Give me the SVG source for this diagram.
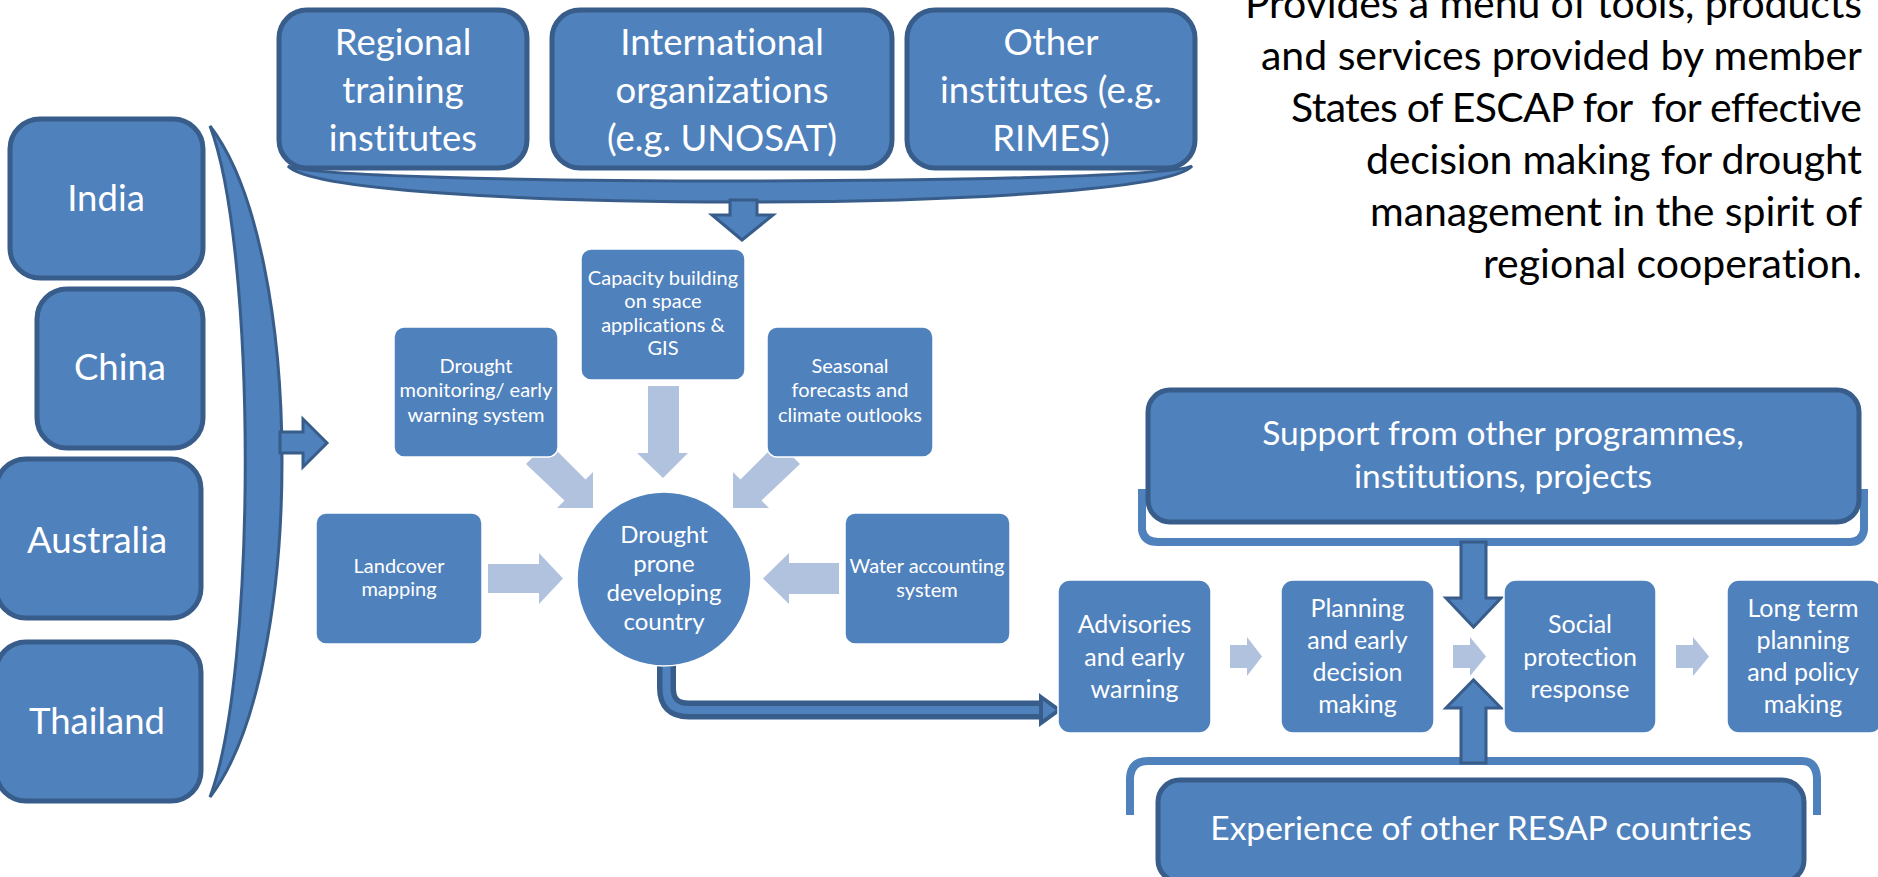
<svg xmlns="http://www.w3.org/2000/svg" width="1878" height="877" viewBox="0 0 1878 877">
  <style>
    text { font-family: Lato, "Open Sans", "Liberation Sans", sans-serif; fill: #FFFFFF; text-anchor: middle; font-variant-ligatures: none; }
    .big { stroke: #385D8A; stroke-width: 5; fill: #4F81BD; }
    .sm { fill: #4F81BD; stroke: #FFFFFF; stroke-width: 1.5; }
    .dk { fill: #4F81BD; stroke: #385D8A; stroke-width: 3; stroke-linejoin: miter; }
    .lt { fill: #B1C2DE; }
    .brk { fill: none; stroke: #4F81BD; stroke-width: 8; stroke-linecap: butt; }
    .t36 { font-size: 36.5px; }
    .t32 { font-size: 33.5px; }
    .t25 { font-size: 25px; }
    .t24 { font-size: 24px; }
    .t18 { font-size: 20px; }
    .note { fill: #000000; text-anchor: end; font-size: 41px; white-space: pre; }
  </style>
  <rect x="0" y="0" width="1878" height="877" fill="#FFFFFF"/>

  <g id="connectors">
    <!-- left crescent brace -->
    <path class="dk" d="M210,126 C306,250 306,672 210,797 C257,672 257,250 210,126 Z"/>
    <!-- arrow from left brace -->
    <polygon class="dk" points="280,432 303,432 303,419 327,443 303,467 303,453 280,453"/>
    <!-- top brace under institutes -->
    <path class="dk" d="M288,166 C330,186 1150,186 1192,166 C1150,214 330,214 288,166 Z"/>
    <!-- down arrow from top brace -->
    <polygon class="dk" points="730,200 757,200 757,215 773,215 742,240 712,215 730,215"/>
    <!-- light arrows into drought prone country -->
    <polygon class="lt" points="648,386 679,386 679,453 688,453 663,478 637,453 648,453"/>
    <polygon class="lt" points="548,442 585.5,479.5 593,472 593,508 557,508 564.5,500.5 526,464"/>
    <polygon class="lt" points="778,442 740.5,479.5 733,472 733,508 769,508 761.5,500.5 800,464"/>
    <polygon class="lt" points="488,564 539,564 539,553 563,578.5 539,604 539,593 488,593"/>
    <polygon class="lt" points="839,563 789,563 789,553 763,578.5 789,604 789,594 839,594"/>
    <!-- elbow connector to advisories -->
    <path d="M666.5,664 V688 Q666.5,710 688.5,710 H1044" fill="none" stroke="#385D8A" stroke-width="19"/>
    <path d="M666.5,667 V688 Q666.5,710 688.5,710 H1046" fill="none" stroke="#4F81BD" stroke-width="8"/>
    <polygon points="1041,697 1059,710 1041,723" fill="#4F81BD" stroke="#385D8A" stroke-width="4" stroke-linejoin="miter"/>
    <!-- light arrows in the flow -->
    <polygon class="lt" points="1230,645 1247,645 1247,637 1262,656.5 1247,676 1247,668 1230,668"/>
    <polygon class="lt" points="1453,645 1470,645 1470,637 1486,656.5 1470,676 1470,668 1453,668"/>
    <polygon class="lt" points="1676,645 1693,645 1693,637 1709,656.5 1693,676 1693,668 1676,668"/>
    <!-- brackets -->
    <path class="brk" d="M1142,489 V530 Q1144,542 1158,542 H1850 Q1862,542 1864,530 V489"/>
    <path class="brk" d="M1130,815 V778 Q1131,761 1148,761 H1802 Q1816,761 1817,778 V815"/>
    <!-- support / experience arrows -->
    <polygon class="dk" points="1461,542 1486,542 1486,598 1501,598 1473.5,627 1446,598 1461,598"/>
    <polygon class="dk" points="1461,763 1486,763 1486,708 1501,708 1473.5,680 1446,708 1461,708"/>
  </g>

  <g id="india"><rect class="big" x="10" y="119" width="193" height="159" rx="30"/><text class="t36" x="106" y="211">India</text></g>
  <g id="china"><rect class="big" x="37" y="289" width="166" height="159" rx="30"/><text class="t36" x="120" y="380">China</text></g>
  <g id="australia"><rect class="big" x="-4" y="459" width="205" height="159" rx="30"/><text class="t36" x="97" y="553">Australia</text></g>
  <g id="thailand"><rect class="big" x="-4" y="642" width="205" height="159" rx="30"/><text class="t36" x="97" y="734">Thailand</text></g>

  <g id="regional"><rect class="big" x="279" y="10" width="248" height="158" rx="28"/>
    <text class="t36" x="403"><tspan x="403" y="55">Regional</tspan><tspan x="403" y="103">training</tspan><tspan x="403" y="151">institutes</tspan></text></g>
  <g id="international"><rect class="big" x="552" y="10" width="340" height="158" rx="28"/>
    <text class="t36" x="722"><tspan x="722" y="55">International</tspan><tspan x="722" y="103">organizations</tspan><tspan x="722" y="151">(e.g. UNOSAT)</tspan></text></g>
  <g id="other"><rect class="big" x="907" y="10" width="288" height="158" rx="28"/>
    <text class="t36" x="1051"><tspan x="1051" y="55">Other</tspan><tspan x="1051" y="103">institutes (e.g.</tspan><tspan x="1051" y="151">RIMES)</tspan></text></g>

  <g id="note">
    <text class="note" xml:space="preserve"><tspan x="1862" y="18" textLength="617">Provides a menu of tools, products</tspan><tspan x="1862" y="70" textLength="601">and services provided by member</tspan><tspan x="1862" y="122" textLength="571">States of ESCAP for  for effective</tspan><tspan x="1862" y="174" textLength="496">decision making for drought</tspan><tspan x="1862" y="226" textLength="492">management in the spirit of</tspan><tspan x="1862" y="278" textLength="379">regional cooperation.</tspan></text>
  </g>

  <g id="capacity"><rect class="sm" x="581" y="249" width="164" height="131" rx="10"/>
    <text class="t18"><tspan x="663" y="285">Capacity building</tspan><tspan x="663" y="308">on space</tspan><tspan x="663" y="332">applications &amp;</tspan><tspan x="663" y="355">GIS</tspan></text></g>
  <g id="monitoring"><rect class="sm" x="394" y="327" width="164" height="130" rx="10"/>
    <text class="t18"><tspan x="476" y="373">Drought</tspan><tspan x="476" y="397">monitoring/ early</tspan><tspan x="476" y="422">warning system</tspan></text></g>
  <g id="seasonal"><rect class="sm" x="767" y="327" width="166" height="130" rx="10"/>
    <text class="t18"><tspan x="850" y="373">Seasonal</tspan><tspan x="850" y="397">forecasts and</tspan><tspan x="850" y="422">climate outlooks</tspan></text></g>
  <g id="landcover"><rect class="sm" x="316" y="513" width="166" height="131" rx="10"/>
    <text class="t18"><tspan x="399" y="573">Landcover</tspan><tspan x="399" y="596">mapping</tspan></text></g>
  <g id="water"><rect class="sm" x="845" y="513" width="165" height="131" rx="10"/>
    <text class="t18"><tspan x="927" y="573">Water accounting</tspan><tspan x="927" y="597">system</tspan></text></g>
  <g id="country"><circle class="sm" cx="664" cy="579" r="87"/>
    <text class="t24"><tspan x="664" y="543">Drought</tspan><tspan x="664" y="572">prone</tspan><tspan x="664" y="601">developing</tspan><tspan x="664" y="630">country</tspan></text></g>

  <g id="support"><rect class="big" x="1148" y="390" width="711" height="132" rx="22"/>
    <text class="t32"><tspan x="1503" y="445">Support from other programmes,</tspan><tspan x="1503" y="488">institutions, projects</tspan></text></g>
  <g id="experience"><rect class="big" x="1158" y="780" width="646" height="102" rx="22"/>
    <text class="t32" x="1481" y="840">Experience of other RESAP countries</text></g>

  <g id="advisories"><rect class="sm" x="1058" y="580" width="153" height="153" rx="12"/>
    <text class="t25"><tspan x="1134.5" y="633">Advisories</tspan><tspan x="1134.5" y="666">and early</tspan><tspan x="1134.5" y="698">warning</tspan></text></g>
  <g id="planning"><rect class="sm" x="1281" y="580" width="153" height="153" rx="12"/>
    <text class="t25"><tspan x="1357.5" y="617">Planning</tspan><tspan x="1357.5" y="649">and early</tspan><tspan x="1357.5" y="681">decision</tspan><tspan x="1357.5" y="713">making</tspan></text></g>
  <g id="social"><rect class="sm" x="1504" y="580" width="152" height="153" rx="12"/>
    <text class="t25"><tspan x="1580" y="633">Social</tspan><tspan x="1580" y="666">protection</tspan><tspan x="1580" y="698">response</tspan></text></g>
  <g id="longterm"><rect class="sm" x="1727" y="580" width="155" height="153" rx="12"/>
    <text class="t25"><tspan x="1803" y="617">Long term</tspan><tspan x="1803" y="649">planning</tspan><tspan x="1803" y="681">and policy</tspan><tspan x="1803" y="713">making</tspan></text></g>
</svg>
